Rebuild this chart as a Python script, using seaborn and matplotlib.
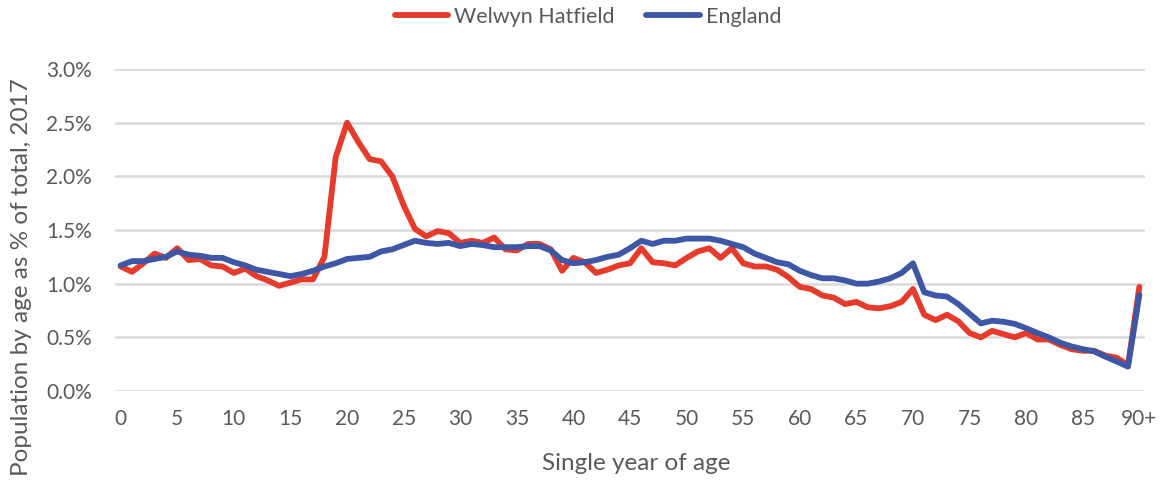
import matplotlib
matplotlib.use("Agg")
import matplotlib.pyplot as plt
import seaborn as sns
import pandas as pd
from matplotlib.ticker import FuncFormatter, FixedLocator

# Share of population at each single year of age (0 .. 90+), 2017, in percent
ages = list(range(91))
age_labels = [str(a) for a in range(90)] + ["90+"]

welwyn_hatfield = [
    1.16, 1.11, 1.19, 1.28, 1.24, 1.33, 1.22, 1.23, 1.17, 1.16,
    1.10, 1.14, 1.07, 1.03, 0.98, 1.01, 1.04, 1.04, 1.25, 2.18,
    2.50, 2.32, 2.16, 2.14, 2.00, 1.73, 1.51, 1.44, 1.49, 1.47,
    1.38, 1.40, 1.38, 1.43, 1.32, 1.31, 1.37, 1.37, 1.32, 1.12,
    1.24, 1.20, 1.10, 1.13, 1.17, 1.19, 1.33, 1.20, 1.19, 1.17,
    1.24, 1.30, 1.33, 1.24, 1.33, 1.19, 1.16, 1.16, 1.13, 1.06,
    0.97, 0.95, 0.89, 0.87, 0.81, 0.83, 0.78, 0.77, 0.79, 0.83,
    0.95, 0.71, 0.66, 0.71, 0.65, 0.54, 0.50, 0.56, 0.53, 0.50,
    0.54, 0.48, 0.48, 0.43, 0.39, 0.375, 0.375, 0.33, 0.31, 0.24,
    0.97,
]

england = [
    1.17, 1.21, 1.21, 1.23, 1.25, 1.30, 1.27, 1.26, 1.24, 1.24,
    1.20, 1.17, 1.13, 1.11, 1.09, 1.07, 1.09, 1.12, 1.16, 1.19,
    1.23, 1.24, 1.25, 1.30, 1.32, 1.36, 1.40, 1.38, 1.37, 1.38,
    1.35, 1.37, 1.36, 1.34, 1.34, 1.34, 1.35, 1.35, 1.31, 1.22,
    1.19, 1.20, 1.22, 1.25, 1.27, 1.33, 1.40, 1.37, 1.40, 1.40,
    1.42, 1.42, 1.42, 1.40, 1.37, 1.34, 1.28, 1.24, 1.20, 1.18,
    1.12, 1.08, 1.05, 1.05, 1.03, 1.00, 1.00, 1.02, 1.05, 1.10,
    1.19, 0.92, 0.89, 0.88, 0.81, 0.72, 0.63, 0.655, 0.645, 0.625,
    0.585, 0.54, 0.50, 0.45, 0.415, 0.39, 0.37, 0.32, 0.275, 0.227,
    0.895,
]

series_names = ["Welwyn Hatfield", "England"]
series_colors = ["#E63A2B", "#3D56A6"]

df = pd.concat([
    pd.DataFrame({"age": ages, "share": welwyn_hatfield, "area": series_names[0]}),
    pd.DataFrame({"age": ages, "share": england, "area": series_names[1]}),
])

sns.set_theme(style="white")
plt.rcParams["font.family"] = ["Lato", "DejaVu Sans"]
text_grey = "#595959"

fig = plt.figure(figsize=(11.62, 4.80), dpi=100)
ax = fig.add_axes([115 / 1162, 89 / 480, 1030 / 1162, 322 / 480])

sns.lineplot(
    data=df, x="age", y="share", hue="area", hue_order=series_names,
    palette=series_colors, linewidth=4.2, ax=ax, legend=False,
    solid_joinstyle="round", solid_capstyle="round",
)

ax.set_xlim(-0.5, 90.5)
ax.set_ylim(0, 3.0)
ax.yaxis.set_major_locator(FixedLocator([0, 0.5, 1.0, 1.5, 2.0, 2.5, 3.0]))
ax.yaxis.set_major_formatter(FuncFormatter(lambda v, _: f"{v:.1f}%"))
tick_pos = list(range(0, 91, 5))
ax.set_xticks(tick_pos)
ax.set_xticklabels([age_labels[i] for i in tick_pos])

ax.grid(axis="y", color="#D9D9D9", linewidth=1.8)
ax.grid(axis="x", visible=False)
ax.set_axisbelow(True)
for side in ax.spines.values():
    side.set_visible(False)
ax.tick_params(axis="both", length=0, labelsize=15, labelcolor=text_grey)
ax.tick_params(axis="y", pad=16.5)
ax.tick_params(axis="x", pad=13)

ax.set_xlabel("")
ax.set_ylabel("")
fig.text(636 / 1162, 1 - 463 / 480, "Single year of age", ha="center", va="center",
         fontsize=17.5, color=text_grey)
fig.text(22 / 1162, 1 - 277 / 480, "Population by age as % of total, 2017",
         ha="center", va="center", rotation=90, fontsize=17.5, color=text_grey)

handles = [plt.Line2D([], [], color=c, linewidth=4.2) for c in series_colors]
fig.legend(handles, series_names, loc="center", bbox_to_anchor=(588 / 1162, 1 - 17 / 480),
           ncol=2, frameon=False, fontsize=15.5, labelcolor=text_grey,
           handlelength=2.5, handletextpad=0.28, columnspacing=1.44)

fig.savefig("out.png", dpi=100)
